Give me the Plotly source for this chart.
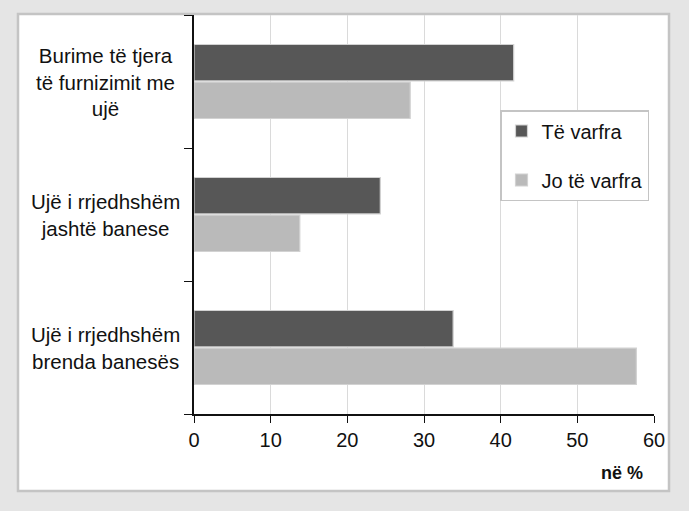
import plotly.graph_objects as go

categories = ["Ujë i rrjedhshëm<br>brenda banesës",
              "Ujë i rrjedhshëm<br>jashtë banese",
              "Burime të tjera<br>të furnizimit me<br>ujë"]
poor = [33.8, 24.3, 41.7]        # Të varfra
nonpoor = [57.7, 13.8, 28.2]     # Jo të varfra
series_names = ["Të varfra", "Jo të varfra"]
x_ticks = [0, 10, 20, 30, 40, 50, 60]

FONT = "Liberation Sans, Arial, sans-serif"

fig = go.Figure()
fig.add_trace(go.Bar(
    y=categories, x=nonpoor, orientation="h", name=series_names[1],
    marker=dict(color="#bababa", line=dict(color="#d2d2d2", width=1.2)),
    legendgroup="b", legendrank=2))
fig.add_trace(go.Bar(
    y=categories, x=poor, orientation="h", name=series_names[0],
    marker=dict(color="#575757", line=dict(color="#d2d2d2", width=1.2)),
    legendgroup="a", legendrank=1))

# white panel behind the plot
fig.add_shape(type="rect", xref="paper", yref="paper",
              x0=(18 - 194) / 460, x1=(669 - 194) / 460,
              y0=(414 - 491) / 399, y1=(414 - 14) / 399,
              fillcolor="white", line=dict(color="#c4c4c4", width=2.5),
              layer="below")

for c in categories:
    fig.add_annotation(x=-0.193, xref="paper", y=c, yref="y",
                       text=c, showarrow=False, align="center",
                       xanchor="center", yanchor="middle",
                       font=dict(family=FONT, size=20.5, color="#111111"))

fig.add_annotation(x=(645 - 194) / 460, xref="paper", y=(414 - 473) / 399, yref="paper",
                   text="<b>në %</b>", showarrow=False, xanchor="right", yanchor="middle",
                   font=dict(family=FONT, size=18, color="#111111"))

fig.update_layout(
    width=689, height=511,
    margin=dict(l=194, r=35, t=15, b=97),
    paper_bgcolor="#e5e5e5",
    plot_bgcolor="rgba(0,0,0,0)",
    barmode="group", bargap=0.435, bargroupgap=0.03,
    font=dict(family=FONT, size=20, color="#111111"),
    showlegend=True,
    legend=dict(x=(500 - 194) / 460, y=(414 - 110) / 399, xanchor="left", yanchor="top",
                bgcolor="white", bordercolor="#c4c4c4", borderwidth=1.5,
                traceorder="grouped", tracegroupgap=20,
                font=dict(family=FONT, size=20, color="#111111")),
    xaxis=dict(range=[0, 60], tickvals=x_ticks, ticks="outside", ticklen=7,
               tickcolor="#111111", showline=True, linecolor="#111111", linewidth=1.5,
               showgrid=True, gridcolor="#dadada", gridwidth=1, zeroline=False,
               tickfont=dict(family=FONT, size=20, color="#111111")),
    yaxis=dict(showticklabels=False, ticks="outside", ticklen=8, tickson="boundaries",
               tickcolor="#111111", showline=True, linecolor="#111111", linewidth=1.5,
               showgrid=False, zeroline=False),
)

fig.write_html("out.html",
               config={"displayModeBar": False},
               post_script="document.body.style.margin='0';document.body.style.padding='0';")
